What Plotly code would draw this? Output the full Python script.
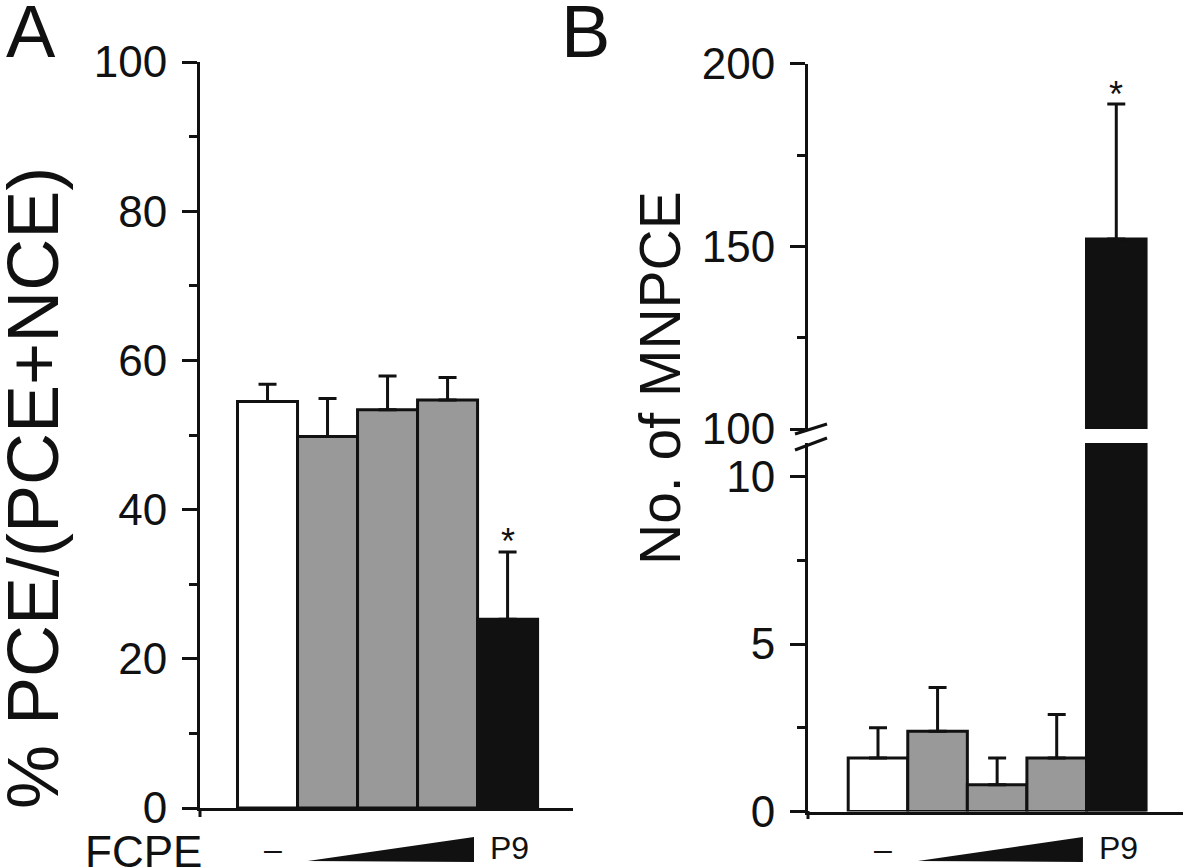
import plotly.graph_objects as go

W, H = 1183, 868

# ---------------- data ----------------
groups = [0, 1, 2, 3, 4]            # control (–), FCPE low/mid/high, P9
bar_colors = ['#ffffff', '#999999', '#999999', '#999999', '#111111']

pce_mean = [54.5, 49.8, 53.4, 54.7, 25.3]     # % PCE/(PCE+NCE)
pce_err = [2.3, 5.1, 4.5, 3.0, 9.0]

mnpce_mean = [1.6, 2.4, 0.8, 1.6, 152.0]      # No. of MNPCE
mnpce_err = [0.9, 1.3, 0.8, 1.3, 37.0]

yA_ticks = [0, 20, 40, 60, 80, 100]
yA_minor = [10, 30, 50, 70, 90]
yB_low_ticks = [0, 5, 10]
yB_low_minor = [2.5, 7.5]
yB_up_ticks = [100, 150, 200]
yB_up_minor = [125, 175]

FONT = "Liberation Sans, Arial, sans-serif"
INK = '#111111'


def px(x):
    return x / W


def py(y):
    return 1 - y / H


fig = go.Figure()

# Panel A
fig.add_trace(go.Bar(
    x=groups, y=pce_mean, width=1.0,
    marker=dict(color=bar_colors, line=dict(color=INK, width=3)),
    error_y=dict(type='data', symmetric=False, array=pce_err,
                 arrayminus=[0] * 5, color=INK, thickness=3, width=9),
    xaxis='x', yaxis='y', showlegend=False, hoverinfo='skip'))

# Panel B lower part
fig.add_trace(go.Bar(
    x=groups, y=mnpce_mean, width=1.0,
    marker=dict(color=bar_colors, line=dict(color=INK, width=3)),
    error_y=dict(type='data', symmetric=False,
                 array=mnpce_err[:4] + [0], arrayminus=[0] * 5,
                 color=INK, thickness=3, width=9),
    xaxis='x2', yaxis='y2', showlegend=False, hoverinfo='skip'))

# Panel B upper part (only P9 reaches it)
fig.add_trace(go.Bar(
    x=groups[4:], y=mnpce_mean[4:], width=1.0,
    marker=dict(color=bar_colors[4:], line=dict(color=INK, width=3)),
    error_y=dict(type='data', symmetric=False, array=mnpce_err[4:],
                 arrayminus=[0], color=INK, thickness=3, width=9),
    xaxis='x3', yaxis='y3', showlegend=False, hoverinfo='skip'))

tickfont = dict(family=FONT, size=44, color=INK)


def yax(domain, rng, ticks, minor, anchor):
    return dict(domain=domain, range=rng, tickvals=ticks, ticks='outside',
                ticklen=15, tickwidth=3, tickcolor=INK,
                minor=dict(tickvals=minor, ticks='outside', ticklen=8,
                           tickwidth=3, tickcolor=INK),
                showline=True, linewidth=3, linecolor=INK,
                showgrid=False, zeroline=False, tickfont=tickfont,
                ticklabelstandoff=6, anchor=anchor, fixedrange=True,
                automargin=False)


def xax(domain, rng, anchor, line=True):
    return dict(domain=domain, range=rng, showline=line, linewidth=3,
                linecolor=INK, ticks='', showticklabels=False,
                showgrid=False, zeroline=False, anchor=anchor,
                fixedrange=True, automargin=False)


fig.update_layout(
    template='none',
    width=W, height=H,
    margin=dict(l=0, r=0, t=0, b=0, pad=0, autoexpand=False),
    paper_bgcolor='white', plot_bgcolor='white', bargap=0,
    font=dict(family=FONT, color=INK),
    xaxis=xax([px(200), px(573)], [-1.125, 5.09], 'y'),
    yaxis=yax([py(808), py(62)], [0, 100], yA_ticks, yA_minor, 'x'),
    xaxis2=xax([px(808), 1.0], [-1.175, 5.12], 'y2'),
    yaxis2=yax([py(811.6), py(443)], [0, 11], yB_low_ticks, yB_low_minor, 'x2'),
    xaxis3=xax([px(808), 1.0], [-1.175, 5.12], 'y3', line=False),
    yaxis3=yax([py(429), py(63.7)], [100, 200], yB_up_ticks, yB_up_minor, 'x3'),
)

ann = []
# panel letters
ann.append(dict(text='A', x=px(31), y=py(32), xref='paper', yref='paper',
                showarrow=False, xanchor='center', yanchor='middle',
                font=dict(size=74, family=FONT, color=INK)))
ann.append(dict(text='B', x=px(585), y=py(32), xref='paper', yref='paper',
                showarrow=False, xanchor='center', yanchor='middle',
                font=dict(size=74, family=FONT, color=INK)))
# axis titles
ann.append(dict(text='% PCE/(PCE+NCE)', x=px(33), y=py(488), xref='paper',
                yref='paper', showarrow=False, textangle=-90,
                xanchor='center', yanchor='middle',
                font=dict(size=72, family=FONT, color=INK)))
ann.append(dict(text='No. of MNPCE', x=px(660), y=py(378), xref='paper',
                yref='paper', showarrow=False, textangle=-90,
                xanchor='center', yanchor='middle',
                font=dict(size=57, family=FONT, color=INK)))
# FCPE label
ann.append(dict(text='FCPE', x=px(143), y=py(851), xref='paper', yref='paper',
                showarrow=False, xanchor='center', yanchor='middle',
                font=dict(size=44, family=FONT, color=INK)))
# group labels under the bars
for xa in ['x', 'x2']:
    ann.append(dict(text='–', x=groups[0], y=py(849), xref=xa, yref='paper',
                    xshift=5, showarrow=False, xanchor='center',
                    yanchor='middle', font=dict(size=32, family=FONT, color=INK)))
    ann.append(dict(text='P9', x=groups[4], y=py(848), xref=xa, yref='paper',
                    xshift=2, showarrow=False, xanchor='center',
                    yanchor='middle', font=dict(size=32, family=FONT, color=INK)))
# significance stars
ann.append(dict(text='*', x=groups[4], y=pce_mean[4] + pce_err[4], xref='x',
                yref='y', yshift=11, showarrow=False, xanchor='center',
                yanchor='middle', font=dict(size=36, family=FONT, color=INK)))
ann.append(dict(text='*', x=groups[4], y=mnpce_mean[4] + mnpce_err[4],
                xref='x3', yref='y3', yshift=9, showarrow=False,
                xanchor='center', yanchor='middle',
                font=dict(size=36, family=FONT, color=INK)))
fig.update_layout(annotations=ann)

shapes = []
# dose wedges (increasing FCPE)
for xa in ['x', 'x2']:
    shapes.append(dict(type='path', xref=xa, yref='paper',
                       path=f'M 0.67,{py(861)} L 3.44,{py(837)} L 3.44,{py(862)} Z',
                       fillcolor=INK, line=dict(width=0)))
# y-axis lines extend slightly below the x-axis
shapes.append(dict(type='line', xref='paper', yref='paper',
                   x0=px(200), x1=px(200), y0=py(808), y1=py(817),
                   line=dict(color=INK, width=3)))
shapes.append(dict(type='line', xref='paper', yref='paper',
                   x0=px(808), x1=px(808), y0=py(811), y1=py(819),
                   line=dict(color=INK, width=3)))
# axis break marks
shapes.append(dict(type='line', xref='paper', yref='paper',
                   x0=px(795), y0=py(434), x1=px(827), y1=py(424),
                   line=dict(color=INK, width=3)))
shapes.append(dict(type='line', xref='paper', yref='paper',
                   x0=px(795), y0=py(450), x1=px(827), y1=py(438),
                   line=dict(color=INK, width=3)))
fig.update_layout(shapes=shapes)

fig.write_html(
    "out.html",
    config={'displayModeBar': False, 'staticPlot': True},
    post_script="document.body.style.margin='0';document.body.style.padding='0';"
                "document.body.style.overflow='hidden';")
